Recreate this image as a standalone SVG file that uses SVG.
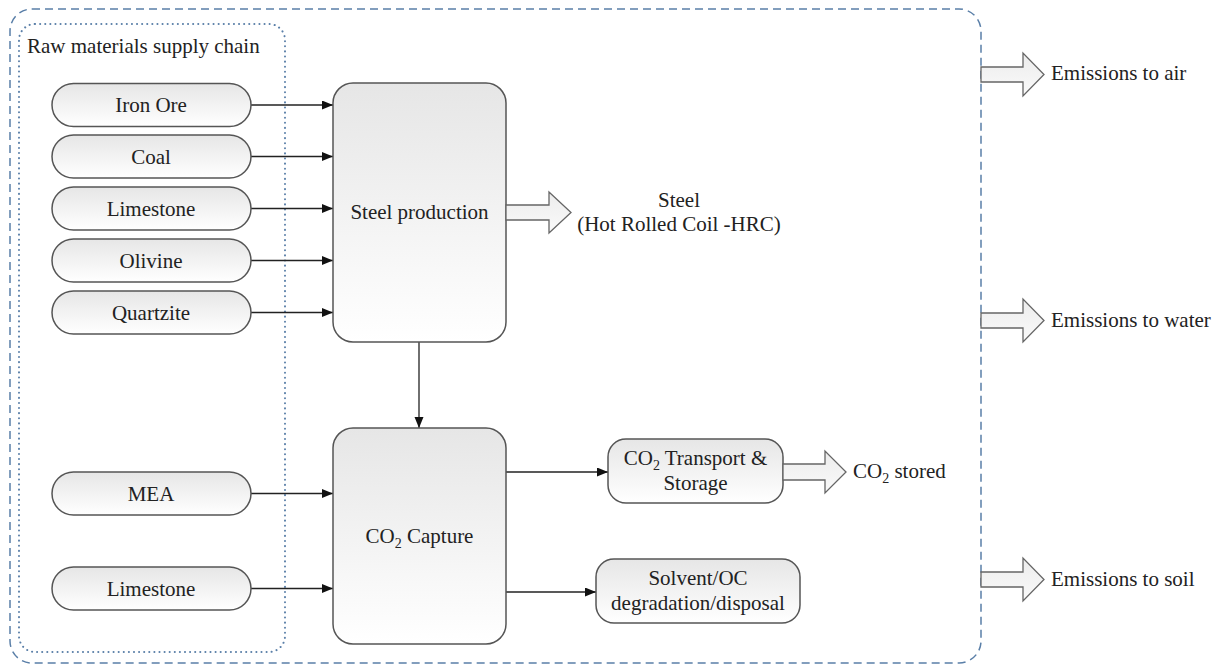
<svg xmlns="http://www.w3.org/2000/svg" width="1218" height="667" viewBox="0 0 1218 667">
<style>
text{font-family:"Liberation Serif","Tinos","Times New Roman","DejaVu Serif",serif;font-size:21px;fill:#222}
.c{text-anchor:middle}
.node{fill:url(#g);stroke:#555;stroke-width:1.5}
.blk{fill:url(#g2);stroke:#666;stroke-width:1.3}
.ln{stroke:#222;stroke-width:1.3;fill:none;marker-end:url(#ah)}
.sub{font-size:14px}
</style>
<defs>
<linearGradient id="g" x1="0" y1="0" x2="0" y2="1"><stop offset="0" stop-color="#e6e6e6"/><stop offset="1" stop-color="#ffffff"/></linearGradient>
<linearGradient id="g2" x1="0" y1="0" x2="0" y2="1"><stop offset="0" stop-color="#ececec"/><stop offset="1" stop-color="#fafafa"/></linearGradient>
<marker id="ah" markerWidth="12" markerHeight="10" refX="11" refY="4.5" orient="auto" markerUnits="userSpaceOnUse"><path d="M0,0 L11,4.5 L0,9 z" fill="#111"/></marker>
</defs>
<g id="boundary">
<rect x="10" y="9" width="971" height="654" rx="22" fill="none" stroke="#5a7fa8" stroke-width="1.5" stroke-dasharray="8,5"/>
</g>
<g id="supply-chain">
<rect x="19" y="24" width="266" height="628" rx="16" fill="none" stroke="#5a7fa8" stroke-width="2" stroke-dasharray="0.1,5" stroke-linecap="round"/>
<text x="27" y="53" font-family="Liberation Serif, serif">Raw materials supply chain</text>
</g>
<g id="connectors">
<line class="ln" x1="251" y1="105" x2="333" y2="105"/>
<line class="ln" x1="251" y1="156.5" x2="333" y2="156.5"/>
<line class="ln" x1="251" y1="208.5" x2="333" y2="208.5"/>
<line class="ln" x1="251" y1="260.5" x2="333" y2="260.5"/>
<line class="ln" x1="251" y1="312.5" x2="333" y2="312.5"/>
<line class="ln" x1="251" y1="493.5" x2="333" y2="493.5"/>
<line class="ln" x1="251" y1="588.5" x2="333" y2="588.5"/>
<line class="ln" x1="419" y1="342" x2="419" y2="428"/>
<line class="ln" x1="506" y1="472" x2="608" y2="472"/>
<line class="ln" x1="506" y1="592" x2="596" y2="592"/>
</g>
<g id="iron-ore"><rect class="node" x="52" y="83.5" width="199" height="43" rx="21.5"/><text class="c" x="151" y="112">Iron Ore</text></g>
<g id="coal"><rect class="node" x="52" y="135" width="199" height="43" rx="21.5"/><text class="c" x="151" y="163.5">Coal</text></g>
<g id="limestone1"><rect class="node" x="52" y="187" width="199" height="43" rx="21.5"/><text class="c" x="151" y="215.5">Limestone</text></g>
<g id="olivine"><rect class="node" x="52" y="239" width="199" height="43" rx="21.5"/><text class="c" x="151" y="267.5">Olivine</text></g>
<g id="quartzite"><rect class="node" x="52" y="291" width="199" height="43" rx="21.5"/><text class="c" x="151" y="319.5">Quartzite</text></g>
<g id="mea"><rect class="node" x="52" y="472" width="199" height="43" rx="21.5"/><text class="c" x="151" y="500.5">MEA</text></g>
<g id="limestone2"><rect class="node" x="52" y="567" width="199" height="43" rx="21.5"/><text class="c" x="151" y="595.5">Limestone</text></g>
<g id="steel-production"><rect class="node" x="333" y="83" width="173" height="259" rx="20"/><text class="c" x="419.5" y="219">Steel production</text></g>
<g id="co2-capture"><rect class="node" x="333" y="428" width="173" height="216" rx="20"/><text class="c" x="419.5" y="543">CO<tspan class="sub" dy="5">2</tspan><tspan dy="-5"> Capture</tspan></text></g>
<g id="steel-output">
<polygon class="blk" points="506,205 549,205 549,192 571,212.5 549,233 549,220 506,220"/>
<text class="c" x="679" y="207">Steel</text>
<text class="c" x="679" y="231">(Hot Rolled Coil -HRC)</text>
</g>
<g id="co2-transport"><rect class="node" x="608" y="439" width="175" height="64" rx="18"/><text class="c" x="695.5" y="465">CO<tspan class="sub" dy="5">2</tspan><tspan dy="-5"> Transport &amp;</tspan></text><text class="c" x="695.5" y="490">Storage</text></g>
<g id="co2-stored">
<polygon class="blk" points="783,464 825,464 825,451 846,472 825,493 825,480 783,480"/>
<text x="853" y="478">CO<tspan class="sub" dy="5">2</tspan><tspan dy="-5"> stored</tspan></text>
</g>
<g id="solvent"><rect class="node" x="596" y="559" width="204" height="64" rx="18"/><text class="c" x="698" y="585">Solvent/OC</text><text class="c" x="698" y="610">degradation/disposal</text></g>
<g id="emissions-air"><polygon class="blk" points="981,67 1023,67 1023,53 1044,74.5 1023,96 1023,82 981,82"/><text x="1051" y="80">Emissions to air</text></g>
<g id="emissions-water"><polygon class="blk" points="981,313 1023,313 1023,299 1044,320.5 1023,342 1023,328 981,328"/><text x="1051" y="327">Emissions to water</text></g>
<g id="emissions-soil"><polygon class="blk" points="981,572 1023,572 1023,558 1044,579.5 1023,601 1023,587 981,587"/><text x="1051" y="586">Emissions to soil</text></g>
</svg>
